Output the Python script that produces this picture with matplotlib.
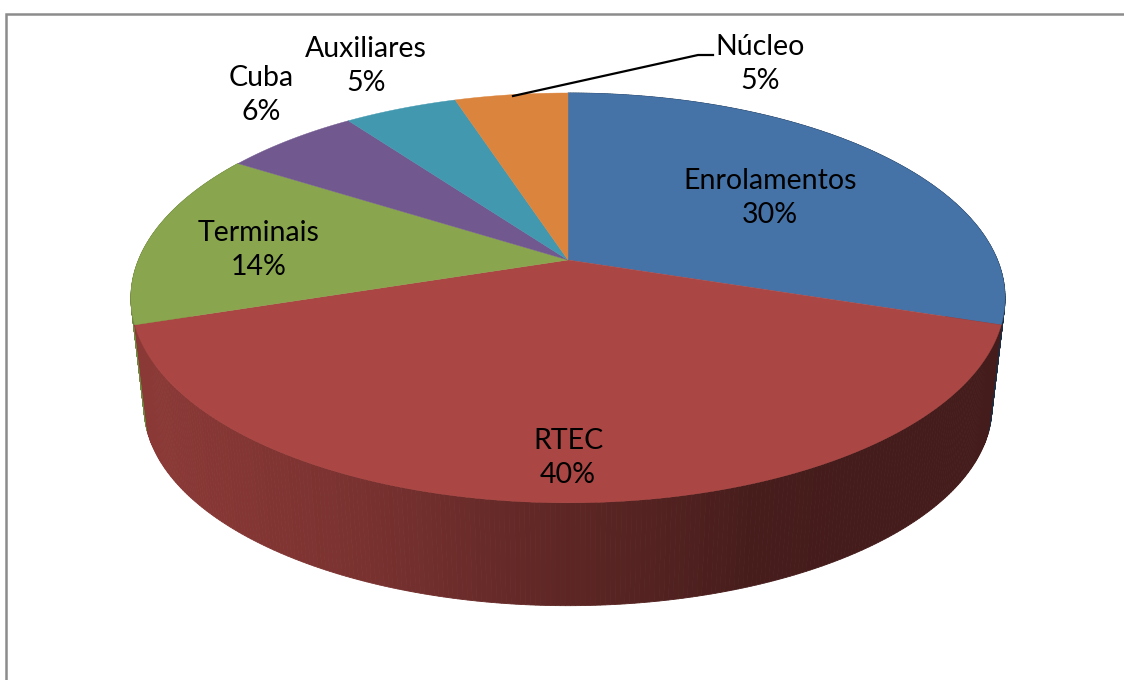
#3D style pie chart of the loss shares
import numpy as np
import matplotlib
matplotlib.use("Agg")
import matplotlib.pyplot as plt

#data
names = ["Enrolamentos", "RTEC", "Terminais", "Cuba", "Auxiliares", "Núcleo"]
values = [30, 40, 14, 6, 5, 5]
colors = ["#4572A7", "#AA4643", "#89A54E", "#71588F", "#4198AF", "#DB843D"]

#where the labels sit, in image pixels
label_x = [770, 568, 259, 261, 366, 760]
label_y = [198, 458, 250, 95, 66, 64]

#shape of the tilted disc, in image pixels
cx = 568
apex_y = 260
persp = 0.185
a = 429.5
b = 197.9
#the lower rim is the top rim shrunk and moved down
rim_scale = 0.97
top_mid = 298
bottom_mid = 407


def top_edge(t):
    #t is the angle clockwise from 12 o'clock
    u = np.sin(t)
    v = np.cos(t)
    w = 1 + persp * v
    return cx + a * u / w, apex_y - b * v / w


def low_edge(x, y):
    return cx + rim_scale * (x - cx), bottom_mid + rim_scale * (y - top_mid)


def shade(x):
    #side wall gets darker going left to right
    return np.interp(x, [140, 350, 550, 750, 850], [0.82, 0.72, 0.56, 0.42, 0.40])


fig = plt.figure(figsize=(11.24, 6.8), dpi=100)
ax = fig.add_axes([0, 0, 1, 1])
ax.set_xlim(0, 1124)
ax.set_ylim(680, 0)
ax.axis("off")

#outer frame, runs off the right and bottom of the image
ax.plot([6, 6, 1124], [680, 13.5, 13.5], color="#8c8c8c", lw=1.8, solid_joinstyle="miter")

edges = np.cumsum([0] + values) / sum(values) * 2 * np.pi

#side wall, the slices at the back first so the RTEC one covers them
for i in [2, 0, 1]:
    base = np.array(matplotlib.colors.to_rgb(colors[i]))
    t = np.linspace(edges[i], edges[i + 1], 260)
    x1, y1 = top_edge(t)
    x2, y2 = low_edge(x1, y1)
    for j in range(len(t) - 1):
        c = base * shade((x1[j] + x1[j + 1]) / 2)
        ax.fill([x1[j], x1[j + 1], x2[j + 1], x2[j]], [y1[j], y1[j + 1], y2[j + 1], y2[j]],
                color=c, lw=0.6)

#top face
for i in range(len(values)):
    t = np.linspace(edges[i], edges[i + 1], 200)
    x, y = top_edge(t)
    ax.fill(np.r_[cx, x], np.r_[apex_y, y], color=colors[i], lw=0.3)

#leader line for Núcleo
ax.plot([513, 698, 713], [96, 55, 55], color="black", lw=1.6, solid_joinstyle="miter")

#labels
for i in range(len(names)):
    ax.text(label_x[i], label_y[i], names[i] + "\n" + str(values[i]) + "%", ha="center", va="center",
            fontsize=20.5, family="Lato", color="black", linespacing=1.4)

fig.savefig("out.png", dpi=100)
